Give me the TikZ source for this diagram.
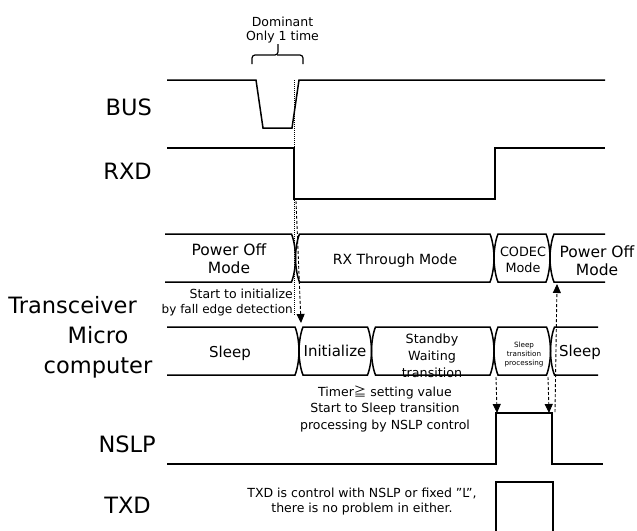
\documentclass[tikz,border=0pt]{standalone}
\usepackage{fontspec}
\setmainfont{DejaVu Sans}
\newfontfamily\cjk{Noto Sans CJK JP}
\usetikzlibrary{arrows.meta}
\newcommand\segbox[4]{%
  \draw[sig] ({#1+4},#3) -- ({#2-4},#3) .. controls ({#2-1.5},{#3+6}) and (#2,{(#3+#4)/2-8}) .. (#2,{(#3+#4)/2})
    .. controls (#2,{(#3+#4)/2+8}) and ({#2-1.5},{#4-6}) .. ({#2-4},#4) -- ({#1+4},#4)
    .. controls ({#1+1.5},{#4-6}) and (#1,{(#3+#4)/2+8}) .. (#1,{(#3+#4)/2})
    .. controls (#1,{(#3+#4)/2-8}) and ({#1+1.5},{#3+6}) .. cycle;}
\newcommand\segopenleft[4]{%
  \draw[sig] (#1,#3) -- ({#2-4},#3) .. controls ({#2-1.5},{#3+6}) and (#2,{(#3+#4)/2-8}) .. (#2,{(#3+#4)/2})
    .. controls (#2,{(#3+#4)/2+8}) and ({#2-1.5},{#4-6}) .. ({#2-4},#4) -- (#1,#4);}
\newcommand\segopenright[4]{%
  \draw[sig] (#2,#3) -- ({#1+4},#3) .. controls ({#1+1.5},{#3+6}) and (#1,{(#3+#4)/2-8}) .. (#1,{(#3+#4)/2})
    .. controls (#1,{(#3+#4)/2+8}) and ({#1+1.5},{#4-6}) .. ({#1+4},#4) -- (#2,#4);}
\begin{document}
\begin{tikzpicture}[x=1pt,y=-1pt,
  sig/.style={line width=1.5pt,line join=miter},
  lbl/.style={font=\fontsize{22.5}{27}\selectfont,inner sep=0pt,anchor=base east},
  note/.style={font=\fontsize{12.5}{15}\selectfont,inner sep=0pt,anchor=base},
  mode/.style={inner sep=0pt,align=center},
  dasharrow/.style={dash pattern=on 3pt off 2pt,line width=0.9pt,-{Triangle[width=8pt,length=9pt]}},
  dotline/.style={dash pattern=on 1pt off 1pt,line width=0.7pt}]
\useasboundingbox (0,0) rectangle (637,530);
\fill[white] (0,0) rectangle (637,530);

% row labels
\node[lbl] (lbus) at (152,115) {BUS};
\node[lbl] (lrxd) at (152,179) {RXD};
\node[lbl] (ltrx) at (137,313) {Transceiver};
\node[lbl,anchor=base] (lmicro) at (98,343) {Micro};
\node[lbl,anchor=base] (lcomp) at (98,373) {computer};
\node[lbl] (lnslp) at (156,452) {NSLP};
\node[lbl] (ltxd) at (151,513) {TXD};

% BUS
\draw[sig] (167,80) -- (256,80) -- (263,128) -- (292,128) -- (299,80) -- (605,80);
% brace
\draw[line width=1.2pt,rounded corners=3pt] (252,64) -- (252,55) -- (278,55) -- (278,44);
\draw[line width=1.2pt,rounded corners=3pt] (303,64) -- (303,55) -- (277,55);
\node[note] (dom1) at (282.5,27) {Dominant};
\node[note] (dom2) at (282.5,40.5) {Only 1 time};

% RXD
\draw[sig] (167,148) -- (294,148) -- (294,199) -- (495,199) -- (495,148) -- (605,148);

% dotted alignment line
\draw[dotline] (294,80) -- (294,316);

% Transceiver row
\segopenleft{165}{295.5}{234}{282}
\segbox{295.5}{494}{234}{282}
\segbox{494}{550}{234}{282}
\segopenright{550}{605}{234}{282}
\node[mode,font=\fontsize{15.5}{18.5}\selectfont] (tpo1) at (229,258.5) {Power Off\\Mode};
\node[mode,font=\fontsize{14}{17}\selectfont] (trx) at (395,261) {RX Through Mode};
\node[mode,font=\fontsize{12.8}{16}\selectfont] (tcodec) at (523,260) {CODEC\\Mode};
\node[mode,font=\fontsize{15.5}{18}\selectfont] (tpo2) at (597,261) {Power Off\\Mode};

% notes under transceiver
\node[note,anchor=base east] (st1) at (293,298.5) {Start to initialize};
\node[note,anchor=base east,font=\fontsize{12}{14}\selectfont] (st2) at (293,313) {by fall edge detection};

% Micro row
\segopenleft{167}{299}{327}{375}
\segbox{299}{371.5}{327}{375}
\segbox{371.5}{494}{327}{375}
\segbox{494}{550.5}{327}{375}
\segopenright{550.5}{598}{327}{375}
\node[mode,font=\fontsize{15}{18}\selectfont] (msl1) at (230,353) {Sleep};
\node[mode,font=\fontsize{15}{18}\selectfont] (minit) at (335,351) {Initialize};
\node[mode,font=\fontsize{12.7}{16.8}\selectfont] (mstb) at (432,355.5) {Standby\\Waiting\\transition};
\node[mode,font=\fontsize{7.2}{8.7}\selectfont] (mstp) at (524,354.5) {Sleep\\transition\\processing};
\node[mode,font=\fontsize{15}{18}\selectfont] (msl2) at (580,352) {Sleep};

% NSLP
\draw[sig] (167,464) -- (496,464) -- (496,413) -- (552,413) -- (552,464) -- (603,464);
\node[note] (tm1) at (385,396) {Timer{\cjk ≧} setting value};
\node[note] (tm2) at (385,412.5) {Start to Sleep transition};
\node[note] (tm3) at (385,429) {processing by NSLP control};

% TXD
\draw[sig] (496,531) -- (496,482) -- (553,482) -- (553,531);
\node[note] (tx1) at (362,497) {TXD is control with NSLP or fixed ”L”,};
\node[note] (tx2) at (362,512) {there is no problem in either.};

% dashed arrows
\coordinate (rxfall) at (296,201);
\coordinate (initin) at (301,323);
\coordinate (stbend) at (496,377);
\coordinate (nsrise) at (497,413);
\coordinate (stpend) at (548,377);
\coordinate (nsfall) at (549,413);
\coordinate (nsfallb) at (555,412);
\coordinate (poin) at (557,284);
\draw[dasharrow] (rxfall) -- (initin);
\draw[dasharrow] (stbend) -- (nsrise);
\draw[dasharrow] (stpend) -- (nsfall);
\draw[dasharrow] (nsfallb) -- (poin);
\end{tikzpicture}
\end{document}
